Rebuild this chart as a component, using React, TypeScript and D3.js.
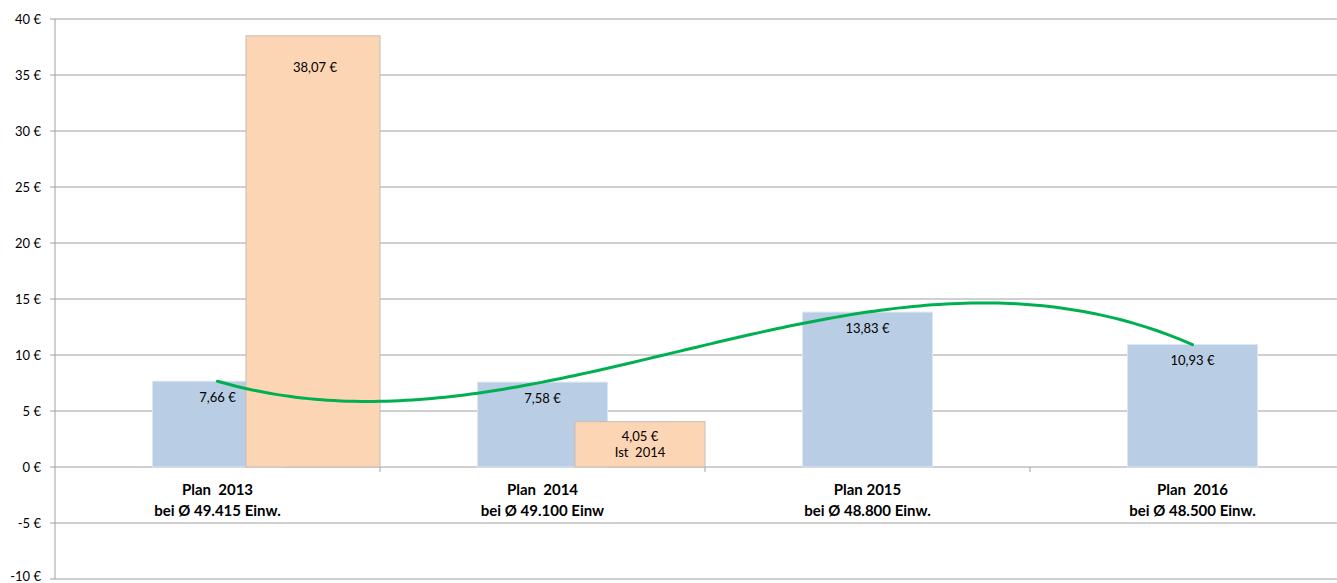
import React from 'react';
import * as d3 from 'd3';

const width = 1337;
const height = 583;
const margin = { top: 19, left: 55, bottom: 4 };

const categories = ['Plan  2013', 'Plan  2014', 'Plan 2015', 'Plan  2016'];
const subLabels = ['bei Ø 49.415 Einw.', 'bei Ø 49.100 Einw', 'bei Ø 48.800 Einw.', 'bei Ø 48.500 Einw.'];
const planValues = [7.66, 7.58, 13.83, 10.93];
const planLabels = ['7,66 €', '7,58 €', '13,83 €', '10,93 €'];
// Ist series only exists for the first two categories
const istValues = [38.5, 4.05];
const istLabels = [['38,07 €'], ['4,05 €', 'Ist  2014']];
const yTicks = [-10, -5, 0, 5, 10, 15, 20, 25, 30, 35, 40];

const blue = '#b9cde5';
const orange = '#fcd5b5';
const green = '#00b050';
const grid = '#a0a0a0';
const font = 'Lato, "Liberation Sans", sans-serif';

// 3rd order polynomial trendline through the plan values (x = 1..n)
function trend(xs: number[], ys: number[]) {
  return (t: number) =>
    ys.reduce((sum, yi, i) => {
      let term = yi;
      xs.forEach((xj, j) => {
        if (j !== i) term *= (t - xj) / (xs[i] - xj);
      });
      return sum + term;
    }, 0);
}

export default function App() {
  const step = 325;
  const x = d3.scaleBand<string>()
    .domain(categories)
    .range([margin.left, margin.left + step * categories.length]);
  const y = d3.scaleLinear().domain([-10, 40]).range([height - margin.bottom, margin.top]);

  const bw = x.bandwidth();
  const planX = (i: number) => (x(categories[i]) as number) + bw * 0.3;
  const istX = (i: number) => (x(categories[i]) as number) + bw * 0.6;
  const barW = bw * 0.4;

  const idx = planValues.map((_, i) => i + 1);
  const f = trend(idx, planValues);
  const tx = d3.scaleLinear().domain([1, planValues.length])
    .range([planX(0) + barW / 2, planX(planValues.length - 1) + barW / 2]);
  const pts = d3.range(1, planValues.length + 0.001, 0.02).map(t => [tx(t), y(f(t))] as [number, number]);
  const line = d3.line().curve(d3.curveLinear)(pts) || '';

  const y0 = y(0);

  return (
    <svg width={width} height={height} style={{ position: 'absolute', left: 0, top: 0, background: '#fff' }} fontFamily={font}>
      {yTicks.map(t => (
        <g key={t}>
          <line x1={margin.left - 5} x2={width} y1={y(t)} y2={y(t)} stroke={grid} strokeWidth={1} />
          <text x={margin.left - 14} y={Math.min(y(t), height - 7)} dy="0.35em" textAnchor="end" fontSize={13} fill="#000">
            {`${t} €`}
          </text>
        </g>
      ))}
      <line x1={margin.left} x2={margin.left} y1={margin.top} y2={height - margin.bottom} stroke={grid} />
      {categories.map((c, i) => (
        <line key={c} x1={(x(c) as number) + bw} x2={(x(c) as number) + bw} y1={y0} y2={y0 + 5} stroke={grid} />
      ))}

      {planValues.map((v, i) => (
        <rect key={'p' + i} x={planX(i)} y={y(v)} width={barW} height={y0 - y(v)} fill={blue} stroke="#dce6f2" strokeWidth={1} />
      ))}
      {planValues.map((v, i) => (
        <text key={'pl' + i} x={planX(i) + barW / 2} y={y(v) + 16} dy="0.35em" textAnchor="middle" fontSize={13} fill="#000">
          {planLabels[i]}
        </text>
      ))}
      {istValues.map((v, i) => (
        <rect key={'i' + i} x={istX(i) - (i === 0 ? 4 : 0)} y={y(v)} width={barW + (i === 0 ? 4 : 0)} height={y0 - y(v)} fill={orange} stroke="#c8bcb4" strokeWidth={1} />
      ))}
      {istValues.map((v, i) => (
        <text key={'il' + i} x={istX(i) + barW / 2} y={y(v) + (i === 0 ? 32 : 15)} textAnchor="middle" fontSize={13} fill="#000" style={{ whiteSpace: 'pre' }}>
          {istLabels[i].map((l, k) => (
            <tspan key={k} x={istX(i) + barW / 2} dy={k === 0 ? '0.35em' : 16}>{l}</tspan>
          ))}
        </text>
      ))}

      <path d={line} fill="none" stroke={green} strokeWidth={3} strokeLinecap="round" />

      {categories.map((c, i) => (
        <text key={'c' + i} x={planX(i) + barW / 2} y={y0 + 23} textAnchor="middle" fontSize={15} fontWeight="bold" fill="#000" style={{ whiteSpace: 'pre' }}>
          <tspan x={planX(i) + barW / 2} dy="0.35em">{c}</tspan>
          <tspan x={planX(i) + barW / 2} dy={21}>{subLabels[i]}</tspan>
        </text>
      ))}
    </svg>
  );
}
